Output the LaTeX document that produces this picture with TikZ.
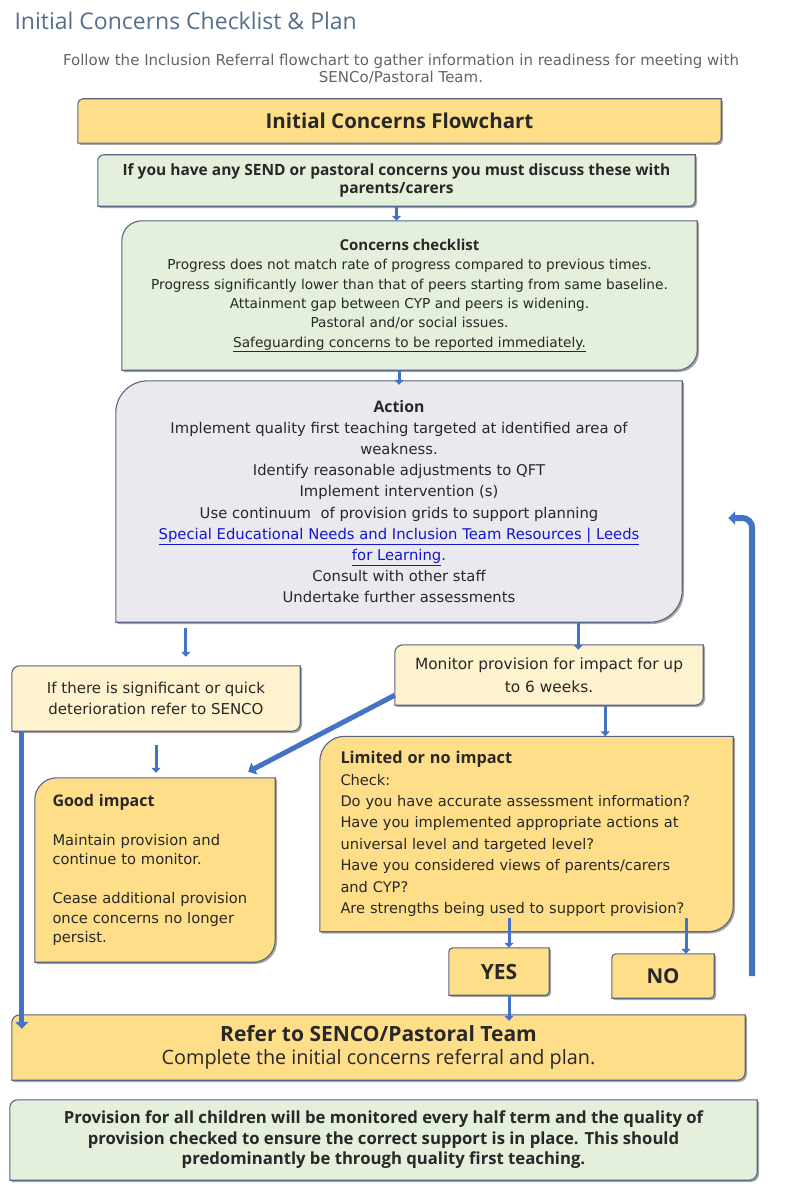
\documentclass[tikz,border=0pt]{standalone}
\usepackage{fontspec}
\setmainfont{DejaVu Sans}
\newfontfamily\abierta{Open Sans}
\usetikzlibrary{arrows.meta,backgrounds,shadows,calc}

\definecolor{amarillo}{RGB}{255,222,138}
\definecolor{crema}{RGB}{255,242,206}
\definecolor{verde}{RGB}{228,239,220}
\definecolor{gris}{RGB}{234,234,238}
\definecolor{borde}{RGB}{88,100,132}
\definecolor{azul}{RGB}{68,114,196}
\definecolor{texto}{RGB}{40,40,40}
\definecolor{titulo}{RGB}{84,110,140}
\definecolor{gristexto}{RGB}{100,100,100}
\definecolor{enlace}{RGB}{20,20,210}

\tikzset{
  caja/.style={inner sep=0pt, text=texto, align=center},
  contorno/.style={draw=borde, line width=1.1pt,
    drop shadow={shadow xshift=1.8pt, shadow yshift=-1.8pt, fill=black, opacity=.35}},
  flecha/.style={draw=azul, line width=3pt, -{Triangle[length=5pt,width=9pt]}},
  gruesa/.style={draw=azul, line width=5pt, -{Triangle[length=7pt,width=13pt]}},
}

% fondo de una caja: esquina sup. izq. y inf. der. redondeadas
\newcommand{\fondocaja}[3]{%
  \path[contorno, fill=#2] (#1.south west) -- ([yshift=-#3]#1.north west)
    arc[start angle=180, end angle=90, radius=#3] -- (#1.north east)
    -- ([yshift=#3]#1.south east)
    arc[start angle=0, end angle=-90, radius=#3] -- cycle;}

\newcommand{\negrita}{\abierta\bfseries}
\newcommand{\tam}[2]{\fontsize{#1}{#2}\selectfont}

\begin{document}
\begin{tikzpicture}[x=1pt,y=1pt]
  \useasboundingbox (0,0) rectangle (791,-1201);

  % Titulo
  \node[anchor=west, text=titulo, font=\abierta\tam{23}{26}]
    (titulo) at (11,-21) {Initial Concerns Checklist \& Plan};
  \node[align=center, text=gristexto, font=\tam{15}{17}]
    (intro) at (401,-69) {Follow the Inclusion Referral flowchart to gather information in readiness for meeting with\\SENCo/Pastoral Team.};

  % Cajas
  \node[caja, minimum width=643pt, minimum height=44pt, font=\negrita\tam{20.5}{22}]
    (cabecera) at (399.5,-121) {Initial Concerns Flowchart};
  \node[caja, minimum width=597pt, minimum height=51pt, font=\negrita\tam{15.5}{18}]
    (discutir) at (396.5,-180.5) {If you have any SEND or pastoral concerns you must discuss these with\\parents/carers};
  \node[caja, minimum width=575pt, minimum height=149pt, font=\tam{13.7}{19.4}]
    (lista) at (409.5,-295.5) {{\negrita\tam{15}{19.4}Concerns checklist}\\
      Progress does not match rate of progress compared to previous times.\\
      Progress significantly lower than that of peers starting from same baseline.\\
      Attainment gap between CYP and peers is widening.\\
      Pastoral and/or social issues.\\
      \underline{Safeguarding concerns to be reported immediately.}};
  \node[caja, minimum width=566pt, minimum height=241pt, font=\tam{14.8}{21.2}]
    (accion) at (399,-501.5) {{\negrita\tam{15.8}{21.2}Action}\\
      Implement quality first teaching targeted at identified area of\\
      weakness.\\
      Identify reasonable adjustments to QFT\\
      Implement intervention (s)\\
      Use continuum \ of provision grids to support planning\\
      {\color{enlace}\underline{Special Educational Needs and Inclusion Team Resources | Leeds}}\\
      {\color{enlace}\underline{for Learning}}.\\
      Consult with other staff\\
      Undertake further assessments};
  \node[caja, minimum width=288pt, minimum height=65pt, font=\tam{15}{21}]
    (deterioro) at (156,-698.5) {If there is significant or quick\\deterioration refer to SENCO};
  \node[caja, minimum width=308pt, minimum height=60pt, font=\tam{15.4}{23}]
    (seguir) at (549,-675) {Monitor provision for impact for up\\to 6 weeks.};
  \node[caja, align=left, text width=372pt, minimum width=413pt, minimum height=195pt,
    font=\tam{14.6}{21.4}]
    (limitado) at (526.5,-834) {{\negrita\tam{16.3}{21.4}Limited or no impact}\\
      Check:\\
      Do you have accurate assessment information?\\
      Have you implemented appropriate actions at\\
      universal level and targeted level?\\
      Have you considered views of parents/carers\\
      and CYP?\\
      Are strengths being used to support provision?};
  \node[caja, align=left, text width=205pt, minimum width=240pt, minimum height=184pt,
    font=\tam{14.7}{19.5}]
    (bueno) at (155,-870) {{\negrita\tam{16}{19.5}Good impact}\\[19.5pt]
      Maintain provision and\\continue to monitor.\\[19.5pt]
      Cease additional provision\\once concerns no longer\\persist.};
  \node[caja, minimum width=100pt, minimum height=47pt, font=\negrita\tam{21}{23}]
    (si) at (499,-971.5) {YES};
  \node[caja, minimum width=102pt, minimum height=44pt, font=\negrita\tam{20.5}{23}]
    (no) at (663,-976) {NO};
  \node[caja, minimum width=733pt, minimum height=65pt, font=\abierta\tam{19.8}{23}]
    (derivar) at (378.5,-1047.5) {{\bfseries\tam{21}{23}Refer to SENCO/Pastoral Team}\\
      Complete the initial concerns referral and plan.};
  \node[caja, minimum width=747pt, minimum height=80pt, font=\negrita\tam{16.7}{20.5}]
    (final) at (383.5,-1140) {Provision for all children will be monitored every half term and the quality of\\
      provision checked to ensure the correct support is in place. This should\\
      predominantly be through quality first teaching.};

  % Fondos
  \begin{scope}[on background layer]
    \foreach \n/\c/\r in {cabecera/amarillo/5, discutir/verde/6, lista/verde/20,
        accion/gris/32, deterioro/crema/8, seguir/crema/8, limitado/amarillo/25,
        bueno/amarillo/22, si/amarillo/4, no/amarillo/4, derivar/amarillo/8, final/verde/8}
      \fondocaja{\n}{\c}{\r};
  \end{scope}

  % Flechas
  \draw[flecha] (discutir.south) -- (discutir.south |- lista.north);
  \draw[flecha] (lista.south -| accion.north) -- ([yshift=-4pt]accion.north);
  \draw[flecha, shorten <=6pt, shorten >=9pt] ([xshift=70pt]accion.south west)
    -- ([xshift=70pt]accion.south west |- deterioro.north);
  \draw[flecha] ([xshift=-104pt]accion.south east)
    -- ([xshift=-104pt,yshift=-5pt]accion.south east |- seguir.north);
  \draw[gruesa] ([yshift=10pt]seguir.south west) -- ([xshift=-27pt,yshift=6pt]bueno.north east);
  \draw[flecha] ([xshift=-98pt]seguir.south east) -- ([xshift=-98pt]seguir.south east |- limitado.north);
  \draw[flecha, shorten <=14pt, shorten >=5pt] (deterioro.south) -- (deterioro.south |- bueno.north);
  \draw[gruesa] ([xshift=10pt]deterioro.south west) -- ([xshift=10pt,yshift=-14pt]deterioro.south west |- derivar.north);
  \draw[flecha] ([xshift=10pt,yshift=30pt]si.north) -- ([xshift=10pt]si.north);
  \draw[flecha] ([xshift=23pt,yshift=36pt]no.north) -- ([xshift=23pt]no.north);
  \draw[flecha] ([xshift=10pt]si.south) -- ([xshift=10pt,yshift=-6pt]si.south |- derivar.north);
  \draw[gruesa, line width=6pt, rounded corners=10pt] ([xshift=38pt]no.east)
    |- ([xshift=46pt,yshift=-16.5pt]accion.east);
\end{tikzpicture}
\end{document}
